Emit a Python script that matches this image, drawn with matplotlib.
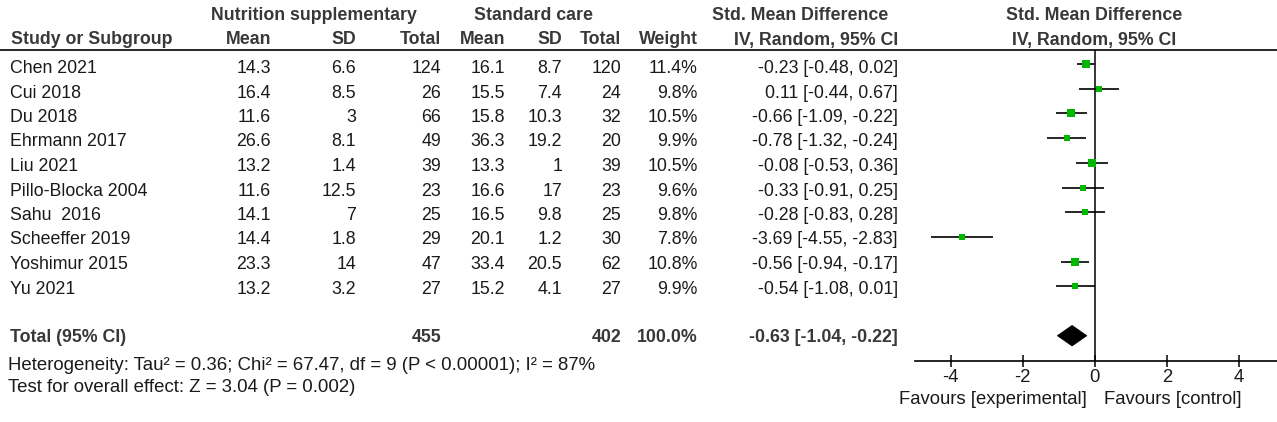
import matplotlib
matplotlib.use("Agg")
import matplotlib.pyplot as plt
from matplotlib.patches import Polygon
from matplotlib.lines import Line2D

plt.rcParams['font.family'] = ['Liberation Sans', 'DejaVu Sans']
plt.rcParams['axes.unicode_minus'] = False

# ---------------- data ----------------
studies = ["Chen 2021", "Cui 2018", "Du 2018", "Ehrmann 2017", "Liu 2021",
           "Pillo-Blocka 2004", "Sahu  2016", "Scheeffer 2019", "Yoshimur 2015", "Yu 2021"]
mean1 = [14.3, 16.4, 11.6, 26.6, 13.2, 11.6, 14.1, 14.4, 23.3, 13.2]
sd1 = [6.6, 8.5, 3, 8.1, 1.4, 12.5, 7, 1.8, 14, 3.2]
n1 = [124, 26, 66, 49, 39, 23, 25, 29, 47, 27]
mean2 = [16.1, 15.5, 15.8, 36.3, 13.3, 16.6, 16.5, 20.1, 33.4, 15.2]
sd2 = [8.7, 7.4, 10.3, 19.2, 1, 17, 9.8, 1.2, 20.5, 4.1]
n2 = [120, 24, 32, 20, 39, 23, 25, 30, 62, 27]
weight = [11.4, 9.8, 10.5, 9.9, 10.5, 9.6, 9.8, 7.8, 10.8, 9.9]
smd = [-0.23, 0.11, -0.66, -0.78, -0.08, -0.33, -0.28, -3.69, -0.56, -0.54]
ci_lo = [-0.48, -0.44, -1.09, -1.32, -0.53, -0.91, -0.83, -4.55, -0.94, -1.08]
ci_hi = [0.02, 0.67, -0.22, -0.24, 0.36, 0.25, 0.28, -2.83, -0.17, 0.01]
total_smd, total_lo, total_hi = -0.63, -1.04, -0.22
xticks = [-4, -2, 0, 2, 4]
heterogeneity = "Heterogeneity: Tau² = 0.36; Chi² = 67.47, df = 9 (P < 0.00001); I² = 87%"
overall = "Test for overall effect: Z = 3.04 (P = 0.002)"

# ---------------- figure ----------------
W, H = 1277, 422
fig = plt.figure(figsize=(W / 100, H / 100), dpi=100)
tab = fig.add_axes([0, 0, 1, 1])
tab.set_xlim(0, W)
tab.set_ylim(H, 0)
tab.axis('off')

FS = 12.8
BODY = '#1a1a1a'
HEAD = '#383838'

def t(x, y, s, ha='right', bold=False, color=None, fs=FS):
    tab.text(x, y, s, ha=ha, va='baseline', fontsize=fs,
             fontweight='bold' if bold else 'normal',
             color=color or (HEAD if bold else BODY))

# column right edges
cx = dict(m1=271, s1=356, n1=441, m2=505, s2=562, n2=621, w=698, ci=898)

# headers
t(314, 19.5, "Nutrition supplementary", ha='center', bold=True)
t(534, 19.5, "Standard care", ha='center', bold=True)
t(800, 19.5, "Std. Mean Difference", ha='center', bold=True)
t(1094.5, 19.5, "Std. Mean Difference", ha='center', bold=True)
t(1094.5, 44.5, "IV, Random, 95% CI", ha='center', bold=True)
t(11, 44.5, "Study or Subgroup", ha='left', bold=True)
for key, lab in [('m1', 'Mean'), ('s1', 'SD'), ('n1', 'Total'), ('m2', 'Mean'),
                 ('s2', 'SD'), ('n2', 'Total'), ('w', 'Weight'), ('ci', 'IV, Random, 95% CI')]:
    t(cx[key], 44.5, lab, bold=True)
tab.add_line(Line2D([0, W], [49.5, 49.5], color='black', lw=1.2))

def fmt(v):
    return f"{v:g}"

for i, name in enumerate(studies):
    yb = 73 + 24.5 * i
    t(10, yb, name, ha='left')
    t(cx['m1'], yb, fmt(mean1[i]))
    t(cx['s1'], yb, fmt(sd1[i]))
    t(cx['n1'], yb, str(n1[i]))
    t(cx['m2'], yb, fmt(mean2[i]))
    t(cx['s2'], yb, fmt(sd2[i]))
    t(cx['n2'], yb, str(n2[i]))
    t(cx['w'], yb, f"{weight[i]:.1f}%")
    t(cx['ci'], yb, f"{smd[i]:.2f} [{ci_lo[i]:.2f}, {ci_hi[i]:.2f}]")

yb = 342
t(10, yb, "Total (95% CI)", ha='left', bold=True)
t(cx['n1'], yb, str(sum(n1)), bold=True)
t(cx['n2'], yb, str(sum(n2)), bold=True)
t(cx['w'], yb, f"{sum(weight):.1f}%", bold=True)
t(cx['ci'], yb, f"{total_smd:.2f} [{total_lo:.2f}, {total_hi:.2f}]", bold=True)
t(8, 370, heterogeneity, ha='left', fs=13.4)
t(8, 392, overall, ha='left', fs=13.4)
t(1087, 404, "Favours [experimental]", ha='right', fs=13.3)
t(1104, 404, "Favours [control]", ha='left', fs=13.3)

# ---------------- forest axes ----------------
left_px, top_px, bot_px = 914.7, 49.5, 360.7
ax = fig.add_axes([left_px / W, (H - bot_px) / H, (W - left_px) / W, (bot_px - top_px) / H])
row_px0, row_dp = 64.0, 24.7
ax.set_xlim(-5, 5.06)
ax.set_ylim((bot_px - row_px0) / row_dp, (top_px - row_px0) / row_dp)
ax.patch.set_alpha(0)
for s in ['top', 'right', 'left']:
    ax.spines[s].set_visible(False)
ax.spines['bottom'].set_linewidth(1.2)
ax.set_yticks([])
ax.set_xticks(xticks)
ax.set_xticklabels([str(v) for v in xticks], fontsize=13.3, color=BODY)
ax.tick_params(axis='x', direction='inout', length=9, width=1.1, pad=1.5)
ax.axvline(0, color='black', lw=1.1, zorder=1)

GREEN = '#00b800'
for i in range(len(studies)):
    ax.plot([ci_lo[i], ci_hi[i]], [i, i], color='black', lw=1.2, zorder=2, solid_capstyle='butt')
    side_px = 7.0 * (weight[i] / 10.0) ** 0.8
    ax.plot([smd[i]], [i], marker='s', ms=side_px * 0.72, color=GREEN,
            markeredgewidth=0, zorder=3)

ty = 11
hh = 10.3 / row_dp
ax.add_patch(Polygon([[total_lo, ty], [total_smd, ty - hh], [total_hi, ty], [total_smd, ty + hh]],
                     closed=True, facecolor='black', edgecolor='black', lw=0.5, zorder=3))

fig.savefig("out.png", dpi=100)
